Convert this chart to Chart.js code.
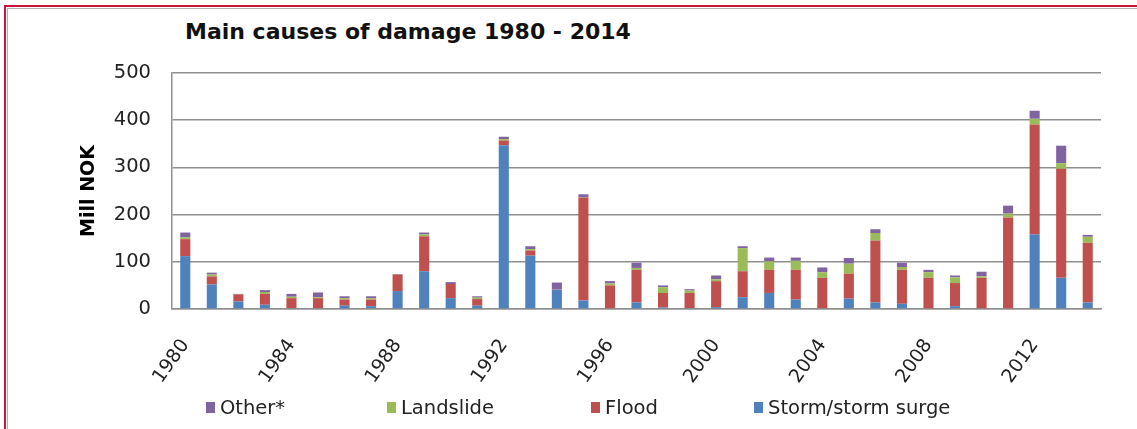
<!DOCTYPE html>
<html>
<head>
<meta charset="utf-8">
<title>Main causes of damage 1980 - 2014</title>
<script src="https://cdn.jsdelivr.net/npm/chart.js@4.4.1/dist/chart.umd.min.js"></script>
<style>
    html, body {
        margin: 0;
        padding: 0;
        background: #ffffff;
    }
    .page {
        position: relative;
        width: 1137px;
        height: 429px;
        overflow: hidden;
        background: #ffffff;
        font-family: "DejaVu Sans", sans-serif;
    }
    /* rand rundt figuren */
    .frame {
        position: absolute;
        left: 4px;
        top: 5px;
        width: 1150px;
        height: 440px;
        border-top: 2px solid #c8163a;
        border-left: 2px solid #c8163a;
    }
    .frame-inner {
        position: absolute;
        left: 7px;
        top: 8px;
        width: 1150px;
        height: 440px;
        border-top: 1px solid #b0b0b0;
        border-left: 1px solid #b0b0b0;
    }
    .chart-title {
        position: absolute;
        left: 185px;
        top: 18px;
        font-weight: bold;
        font-size: 22px;
        line-height: 28px;
        color: #111111;
        white-space: nowrap;
    }
    .chart-box {
        position: absolute;
        left: 0;
        top: 0;
        width: 1137px;
        height: 429px;
    }
    .legend-item {
        position: absolute;
        top: 396px;
        font-size: 19.5px;
        line-height: 24px;
        color: #222222;
        white-space: nowrap;
    }
    .legend-key {
        position: absolute;
        top: 402px;
        width: 9px;
        height: 11px;
    }
</style>
</head>
<body>
<div class="page">
    <div class="frame"></div>
    <div class="frame-inner"></div>
    <div class="chart-title">Main causes of damage 1980 - 2014</div>
    <div class="chart-box"><canvas id="damageChart"></canvas></div>
    <div id="legend"></div>
</div>

<script>
// År 1980 - 2014
const years = [
    1980, 1981, 1982, 1983, 1984, 1985, 1986, 1987, 1988, 1989,
    1990, 1991, 1992, 1993, 1994, 1995, 1996, 1997, 1998, 1999,
    2000, 2001, 2002, 2003, 2004, 2005, 2006, 2007, 2008, 2009,
    2010, 2011, 2012, 2013, 2014
];

// Bare hvert fjerde år vises på aksen
const xTickLabels = ['1980', '1984', '1988', '1992', '1996', '2000', '2004', '2008', '2012'];
const yTicks = [0, 100, 200, 300, 400, 500];

// Mill NOK per årsak
const stormSurge = [
    112, 52, 16, 9, 2, 2, 7, 6, 38, 80,
    23, 7, 347, 113, 41, 18, 0, 14, 3, 2,
    4, 25, 34, 20, 0, 22, 14, 11, 0, 6,
    0, 0, 158, 66, 14
];
const flood = [
    36, 17, 15, 23, 21, 21, 13, 14, 35, 74,
    30, 14, 10, 11, 1, 218, 50, 69, 31, 32,
    55, 55, 49, 63, 66, 53, 131, 72, 66, 49,
    66, 194, 233, 231, 126
];
const landslide = [
    4, 4, 0, 4, 3, 2, 3, 3, 0, 4,
    0, 3, 3, 3, 0, 1, 4, 4, 12, 5,
    4, 49, 18, 19, 12, 21, 16, 6, 12, 12,
    3, 8, 12, 12, 13
];
const other = [
    10, 4, 1, 4, 6, 10, 4, 4, 1, 4,
    4, 3, 5, 6, 14, 6, 5, 11, 4, 3,
    8, 4, 8, 7, 10, 12, 8, 9, 5, 4,
    10, 17, 17, 37, 4
];

const seriesNames = ['Storm/storm surge', 'Flood', 'Landslide', 'Other*'];
const seriesColors = ['#4f81bd', '#c0504d', '#9bbb59', '#8064a2'];

const gridColor = '#8f8f8f';

/**
 * Lager et stablet datasett
 */
function makeDataset(index, values) {
    return {
        label: seriesNames[index],
        data: values,
        backgroundColor: seriesColors[index],
        borderWidth: 0,
        barPercentage: 0.38,
        categoryPercentage: 1.0
    };
}

const ctx = document.getElementById('damageChart');

const chart = new Chart(ctx.getContext('2d'), {
    type: 'bar',
    data: {
        labels: years.map(String),
        datasets: [
            makeDataset(0, stormSurge),
            makeDataset(1, flood),
            makeDataset(2, landslide),
            makeDataset(3, other)
        ]
    },
    options: {
        responsive: true,
        maintainAspectRatio: false,
        animation: false,
        layout: {
            padding: { left: 0, top: 73, right: 36, bottom: 0 }
        },
        plugins: {
            legend: { display: false },
            title: { display: false },
            tooltip: { enabled: false }
        },
        scales: {
            x: {
                stacked: true,
                offset: true,
                grid: { display: false, drawTicks: false },
                border: { display: true, color: gridColor, width: 1.5 },
                ticks: {
                    autoSkip: false,
                    minRotation: 55,
                    maxRotation: 55,
                    padding: 26,
                    color: '#222222',
                    font: { family: 'DejaVu Sans', size: 19 },
                    callback: function(value, index) {
                        const label = String(years[index]);
                        return xTickLabels.includes(label) ? label : '';
                    }
                },
                afterFit: function(scale) {
                    scale.height = 120;
                }
            },
            y: {
                stacked: true,
                min: yTicks[0],
                max: yTicks[yTicks.length - 1],
                grid: { color: gridColor, lineWidth: 1.5, drawTicks: false },
                border: { display: true, color: gridColor, width: 1.5 },
                ticks: {
                    stepSize: 100,
                    padding: 21,
                    color: '#222222',
                    font: { family: 'DejaVu Sans', size: 19.5 }
                },
                title: {
                    display: true,
                    text: 'Mill NOK',
                    color: '#000000',
                    font: { family: 'DejaVu Sans', size: 19, weight: 'bold' },
                    padding: { top: 78, bottom: 0 }
                },
                afterFit: function(scale) {
                    scale.width = 172;
                }
            }
        }
    }
});

/* ==========================================================================
   Tegnforklaring (samme rekkefølge som originalen)
   ========================================================================== */
const legendOrder = [3, 2, 1, 0];
const legendTextLeft = [220, 401, 605, 768];

function buildLegend() {
    const holder = document.getElementById('legend');
    legendOrder.forEach((seriesIndex, i) => {
        const key = document.createElement('div');
        key.className = 'legend-key';
        key.style.left = (legendTextLeft[i] - 14) + 'px';
        key.style.background = seriesColors[seriesIndex];
        holder.appendChild(key);

        const text = document.createElement('div');
        text.className = 'legend-item';
        text.style.left = legendTextLeft[i] + 'px';
        text.textContent = seriesNames[seriesIndex];
        holder.appendChild(text);
    });
}

buildLegend();
</script>
</body>
</html>
